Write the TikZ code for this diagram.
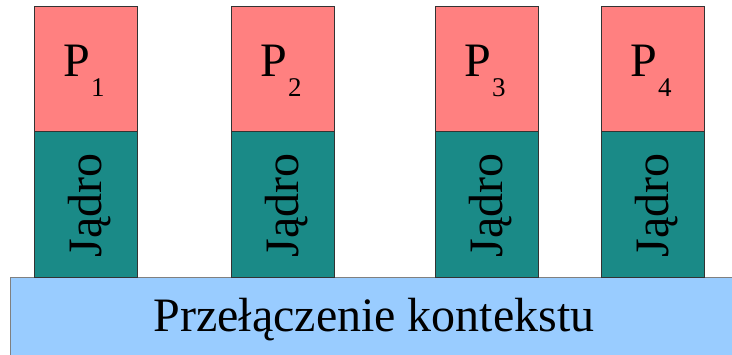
\documentclass[tikz,border=0pt]{standalone}
\usepackage{fontspec}
\setmainfont{Liberation Serif}
\definecolor{procpink}{HTML}{FF8080}
\definecolor{kernteal}{HTML}{1A8A87}
\definecolor{ctxblue}{HTML}{99CCFF}
\definecolor{edgegray}{HTML}{333333}
\begin{document}
\begin{tikzpicture}[x=1pt,y=-1pt,
  procbox/.style={fill=procpink,draw=edgegray,line width=0.8pt},
  kernbox/.style={fill=kernteal,draw=edgegray,line width=0.8pt},
  ctxbox/.style={fill=ctxblue,draw=gray,line width=0.8pt},
  proclabel/.style={inner sep=0pt,anchor=base,font=\fontsize{48}{48}\selectfont},
  kernlabel/.style={inner sep=0pt,anchor=base,rotate=90,font=\fontsize{48}{48}\selectfont},
  ctxlabel/.style={inner sep=0pt,anchor=base,font=\fontsize{48}{48}\selectfont}]
\useasboundingbox (0,0) rectangle (732,355);
\fill[white] (0,0) rectangle (732,355);
\newcommand{\subnum}[1]{\hspace{1pt}\raisebox{-20pt}{\fontsize{27}{27}\selectfont #1}}
% context switch bar
\draw[ctxbox] (10,277) rectangle (733,356);
\node[ctxlabel] (ctx) at (374,331.5) {Przełączenie kontekstu};
% columns
\foreach \i/\xl in {1/34,2/231,3/435,4/601}{
  \draw[procbox] (\xl,6) rectangle ++(103,125);
  \draw[kernbox] (\xl,131) rectangle ++(103,146);
  \node[proclabel] (p\i) at ({\xl+50},77) {P\subnum{\i}};
  \node[kernlabel] (k\i) at ({\xl+67},205.5) {Jądro};
}
\end{tikzpicture}
\end{document}
